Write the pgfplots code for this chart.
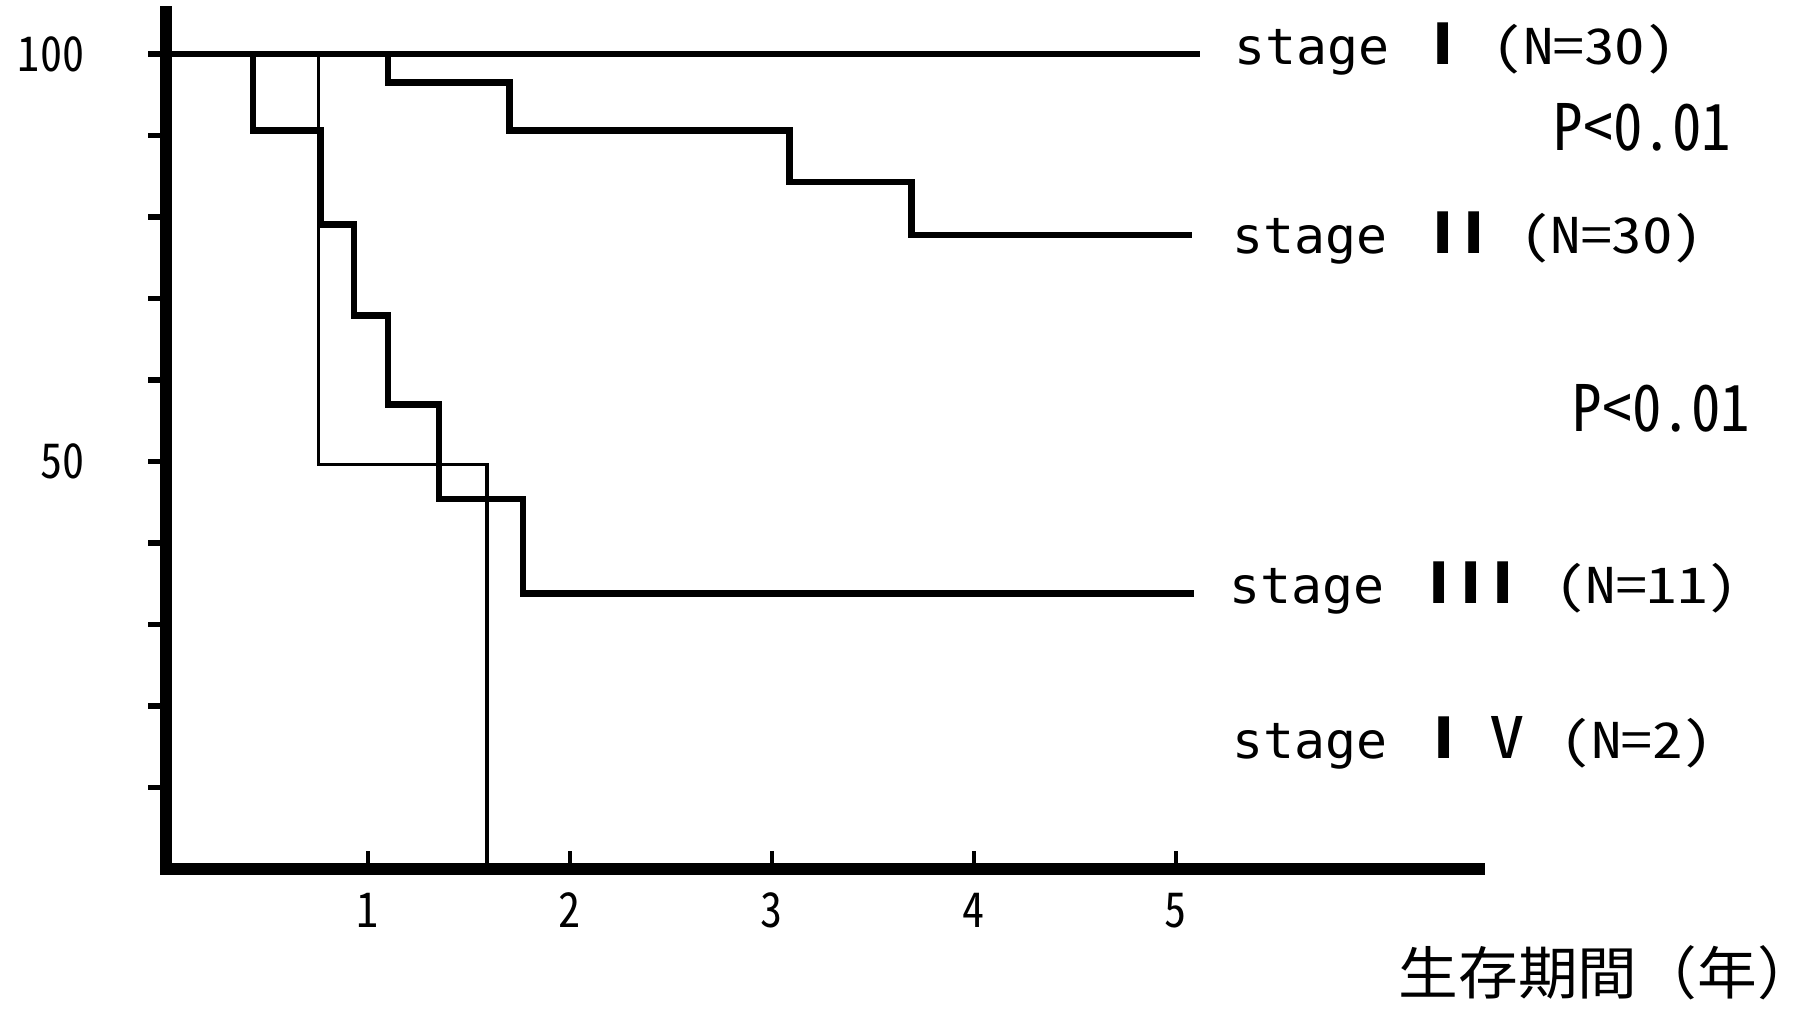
\documentclass[border=0pt]{standalone}
\usepackage{fontspec}
\setmainfont{DejaVu Sans}
\newfontfamily\labf{DejaVu Sans Mono}[FakeStretch=1.03]
\newfontfamily\hwA{Noto Sans CJK JP}[RawFeature=+hwid, FakeStretch=1.24]
\newfontfamily\hwB{Noto Sans CJK JP}[RawFeature=+hwid, FakeStretch=0.92]
\newfontfamily\barf{DejaVu Sans}[UprightFont=* Bold]
\newfontfamily\cjk{Noto Sans CJK JP}[FakeStretch=1.044]
\usepackage{pgfplots}
\pgfplotsset{compat=1.18}
\newcommand\pc[2]{\rlap{\hspace*{#1}#2}}
\newcommand\pcc[2]{\rlap{\hspace*{#1}\makebox[0pt]{#2}}}
\newcommand\rbar[1]{{\barf\fontsize{14.3}{14.3}\selectfont #1}}
\newcommand\nn[1]{{\hwA\fontsize{12.3}{12.3}\selectfont #1}}
\newcommand\cell[1]{\makebox[7.4pt]{#1}}
\begin{document}
\begin{tikzpicture}
\begin{axis}[
  at={(41.5pt,35pt)}, anchor=south west,
  scale only axis, width=328.25pt, height=214.25pt,
  xmin=0, xmax=6.5, ymin=0, ymax=105.15,
  axis x line=bottom, axis y line=left,
  axis line style={-, line width=3.2pt, line cap=rect},
  clip=false,
  xtick={1,2,3,4,5}, ytick={10,20,30,40,50,60,70,80,90,100},
  yticklabels={,,,,50,,,,,100},
  tick align=inside, major tick length=4.5pt,
  xtick style={line width=0.9pt, black},
  ytick style={line width=1.3pt, black, xshift=-4.5pt},
  /pgf/number format/assume math mode=true,
  ticklabel style={font=\hwB\fontsize{12}{12}\selectfont},
  yticklabel style={anchor=east, inner sep=0pt},
  yticklabel shift=20.25pt,
  xticklabel style={anchor=north, inner sep=0pt},
  xticklabel shift=5.75pt,
]
% stage I
\addplot[black, line width=1.6pt, line join=miter] coordinates {(0,100) (5.12,100)};
% stage II
\addplot[black, line width=1.6pt, line join=miter] coordinates {
 (0,100) (1.10,100) (1.10,96.5) (1.70,96.5) (1.70,90.6) (3.087,90.6)
 (3.087,84.3) (3.69,84.3) (3.69,77.8) (5.08,77.8)};
% stage III
\addplot[black, line width=1.6pt, line join=miter] coordinates {
 (0,100) (0.43,100) (0.43,90.6) (0.764,90.6) (0.764,79.1) (0.932,79.1)
 (0.932,67.9) (1.10,67.9) (1.10,57.0) (1.35,57.0) (1.35,45.4) (1.767,45.4)
 (1.767,33.8) (5.09,33.8)};
% stage IV
\addplot[black, line width=0.85pt, line join=miter] coordinates {
 (0,100) (0.756,100) (0.756,49.6) (1.59,49.6) (1.59,0)};
\end{axis}
\begin{scope}[every node/.style={anchor=base west, inner sep=0pt}]
\node at (308pt,236pt) {\labf\fontsize{12.5}{12.5}\selectfont
  \pc{0pt}{stage}\pcc{52.2pt}{\rbar{I}}\pc{64.5pt}{\nn{(N=30)}}};
\node at (307.5pt,189pt) {\labf\fontsize{12.5}{12.5}\selectfont
  \pc{0pt}{stage}\pcc{52.5pt}{\rbar{I}}\pcc{60.25pt}{\rbar{I}}\pc{71.8pt}{\nn{(N=30)}}};
\node at (306.75pt,101.5pt) {\labf\fontsize{12.5}{12.5}\selectfont
  \pc{0pt}{stage}\pcc{52.25pt}{\rbar{I}}\pcc{60.25pt}{\rbar{I}}\pcc{68.25pt}{\rbar{I}}\pc{81.3pt}{\nn{(N=11)}}};
\node at (307.5pt,62.75pt) {\labf\fontsize{12.5}{12.5}\selectfont
  \pc{0pt}{stage}\pcc{52.75pt}{\rbar{I}}\pcc{68.5pt}{\nn{\fontsize{14.3}{14.3}\selectfont V}}\pc{82pt}{\nn{(N=2)}}};
\node at (388.25pt,214.75pt) {\hwB\fontsize{16}{16}\selectfont \cell{P}\cell{<}\cell{0}\cell{.}\cell{0}\cell{1}};
\node at (393pt,144.5pt) {\hwB\fontsize{16}{16}\selectfont \cell{P}\cell{<}\cell{0}\cell{.}\cell{0}\cell{1}};
\node at (349.5pt,3.75pt) {\cjk\fontsize{14.3}{14.3}\selectfont 生存期間（年）};
\end{scope}
\pgfresetboundingbox
\useasboundingbox (0,0) rectangle (454pt,252.25pt);
\end{tikzpicture}
\end{document}
